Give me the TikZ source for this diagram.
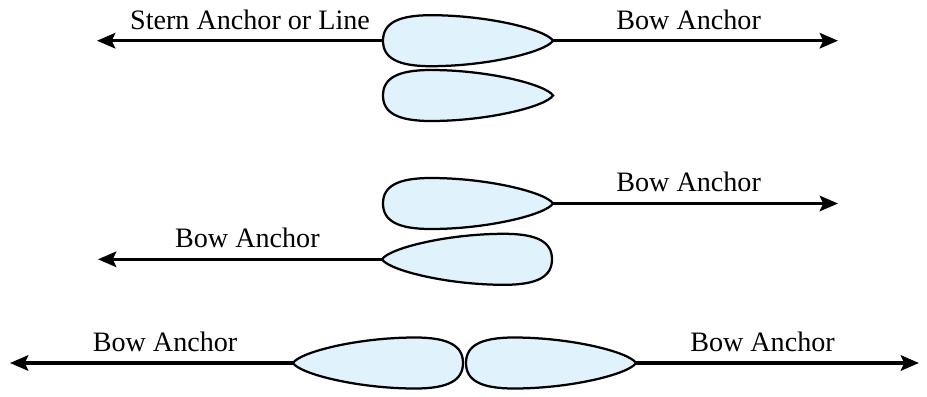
\documentclass[tikz,border=0pt]{standalone}
\usepackage{fontspec}
\setmainfont{Liberation Serif}
\usetikzlibrary{arrows.meta}
\definecolor{hullblue}{RGB}{224,242,252}
\tikzset{
  hull/.style={fill=hullblue,draw=black,line width=1.6pt},
  rope/.style={line width=2.2pt,-{Stealth[length=13pt,width=11pt,inset=2.5pt]}},
  lbl/.style={font=\fontsize{20}{24}\selectfont,anchor=base,yshift=0.29cm,inner sep=0pt},
  boat/.pic={
    \filldraw[hull] (0,0) .. controls (0,-17) and (14,-25.5) .. (48,-25.5)
      .. controls (105,-25.5) and (163,-11) .. (170,0)
      .. controls (163,11) and (105,25.5) .. (48,25.5)
      .. controls (14,25.5) and (0,17) .. (0,0) -- cycle;
    \coordinate (-stern) at (0,0);
    \coordinate (-bow) at (170,0);
  }
}
\begin{document}
\begin{tikzpicture}[x=0.025cm,y=-0.025cm]
\useasboundingbox (0,0) rectangle (927,396);

% bow and stern anchor
\pic (b1) at (383,40.7) {boat};
\pic (b2) at (383,95.5) {boat};
\coordinate (s1) at (97,40.7);
\coordinate (a1) at (838,40.7);
\draw[rope] (b1-stern) -- node[lbl,pos=0.465] (t1) {Stern Anchor or Line} (s1);
\draw[rope] (b1-bow) -- node[lbl,pos=0.476] (t2) {Bow Anchor} (a1);

% two boats, one anchor each
\pic (b3) at (383,203.5) {boat};
\pic[xscale=-1] (b4) at (552,259.3) {boat};
\coordinate (a3) at (838,203.5);
\coordinate (a4) at (98,259.3);
\draw[rope] (b3-bow) -- node[lbl,pos=0.476] (t3) {Bow Anchor} (a3);
\draw[rope] (b4-bow) -- node[lbl,pos=0.474] (t4) {Bow Anchor} (a4);

% stern to stern
\pic[xscale=-1] (b5) at (463,363) {boat};
\pic (b6) at (466,363) {boat};
\coordinate (a5) at (10,363);
\coordinate (a6) at (919,363);
\draw[rope] (b5-bow) -- node[lbl,pos=0.452] (t5) {Bow Anchor} (a5);
\draw[rope] (b6-bow) -- node[lbl,pos=0.447] (t6) {Bow Anchor} (a6);
\end{tikzpicture}
\end{document}
